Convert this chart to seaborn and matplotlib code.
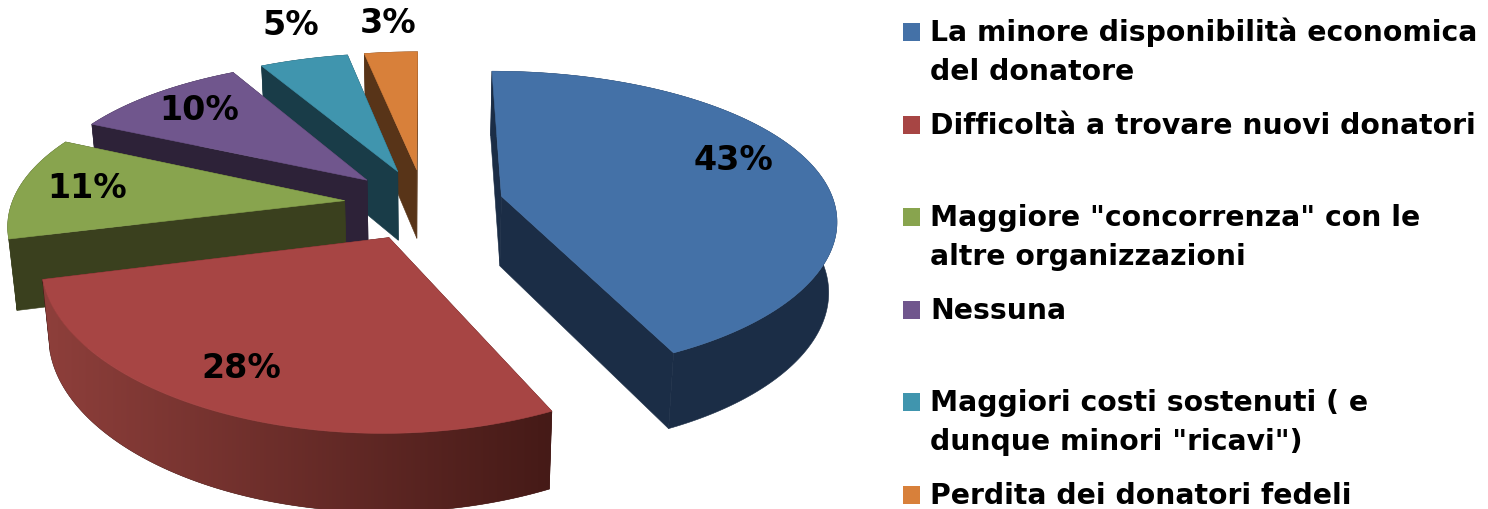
# ============================================
# EXPLODED 3D PIE - seaborn theme + perspective slices
# ============================================

import numpy as np
import seaborn as sns
import matplotlib
matplotlib.use("Agg")
import matplotlib.pyplot as plt
from matplotlib.patches import Polygon, Rectangle
from matplotlib.colors import LinearSegmentedColormap

# ============================================
# DATA
# ============================================

values = [43, 28, 11, 10, 5, 3]

legend_lines = [
    ["La minore disponibilità economica", "del donatore"],
    ["Difficoltà a trovare nuovi donatori"],
    ['Maggiore "concorrenza" con le', "altre organizzazioni"],
    ["Nessuna"],
    ["Maggiori costi sostenuti ( e", 'dunque minori "ricavi")'],
    ["Perdita dei donatori fedeli"],
]

# ============================================
# STYLE
# ============================================

top_colors = ["#4471A7", "#A74544", "#88A44E", "#70568D", "#4095AE", "#D8803A"]
wall_colors = ["#1B2D46", "#451A17", "#3A401E", "#2D2238", "#193C48", "#583418"]
red_wall_light = "#8E3F3B"
label_xy = [(733, 160), (241, 369), (87, 189), (199, 110), (291, 25), (388, 23)]

W, H = 1488, 509
CX, CY = 424, 204
A, B = 333, 149
KX, KY = 0.14, 0.172
EXPLODE = 0.24
DEPTH = 70
SHRINK = 0.98

sns.set_theme(style="white")
plt.rcParams["font.family"] = ["DejaVu Sans"]
palette = sns.color_palette(top_colors)


def project(X, Y, bottom=False):
    x = CX + A * X / (1 + KX * Y)
    s = 1 / (1 + KY * Y)
    y = CY - B * Y * s
    if bottom:
        x = CX + (x - CX) * SHRINK
        y = y + DEPTH * np.sqrt(s)
    return np.column_stack([x, y])


# ============================================
# DRAW
# ============================================

fig = plt.figure(figsize=(W / 100, H / 100), dpi=100)
ax = fig.add_axes([0, 0, 1, 1])

shares = np.array(values) / sum(values) * 2 * np.pi
ends = np.cumsum(shares)
starts = ends - shares
mids = (starts + ends) / 2

red_map = LinearSegmentedColormap.from_list("red_wall", [red_wall_light, wall_colors[1]])

# back slices first
order = np.argsort(-np.cos(mids))

for i in order:
    ox = EXPLODE * np.sin(mids[i])
    oy = EXPLODE * np.cos(mids[i])
    t = np.linspace(starts[i], ends[i], 200)
    X = ox + np.sin(t)
    Y = oy + np.cos(t)

    top_arc = project(X, Y)
    bot_arc = project(X, Y, bottom=True)
    apex_top = project(np.array([ox]), np.array([oy]))
    apex_bot = project(np.array([ox]), np.array([oy]), bottom=True)

    # radial side faces
    flat = wall_colors[i]
    for end in [0, -1]:
        face = np.vstack([apex_top, top_arc[end], bot_arc[end], apex_bot])
        ax.add_patch(Polygon(face, closed=True, fc=flat, ec=flat, lw=0.4))

    # outer wall, the red one is shaded left to right
    wall = np.vstack([top_arc, bot_arc[::-1]])
    wall_patch = Polygon(wall, closed=True, fc=flat, ec=flat, lw=0.4)
    ax.add_patch(wall_patch)
    if i == 1:
        x0, x1 = wall[:, 0].min(), wall[:, 0].max()
        y0, y1 = wall[:, 1].min(), wall[:, 1].max()
        im = ax.imshow(np.linspace(0, 1, 256).reshape(1, -1), cmap=red_map,
                       extent=[x0, x1, y1, y0], aspect="auto", zorder=wall_patch.get_zorder())
        im.set_clip_path(wall_patch)

    # top face
    ax.add_patch(Polygon(np.vstack([apex_top, top_arc]), closed=True,
                         fc=palette[i], ec=palette[i], lw=0.4, zorder=2))

ax.set_xlim(0, W)
ax.set_ylim(H, 0)
ax.axis("off")

for val, (lx, ly) in zip(values, label_xy):
    ax.text(lx, ly, f"{val}%", ha="center", va="center",
            fontsize=24, fontweight="bold", color="black", zorder=5)

# ============================================
# LEGEND
# ============================================

for i, lines in enumerate(legend_lines):
    base = 41 + i * 92.6
    ax.add_patch(Rectangle((903, base - 18), 17, 18, fc=palette[i], ec="none"))
    for n, line in enumerate(lines):
        ax.text(930, base + n * 39, line, ha="left", va="baseline",
                fontsize=20.3, fontweight="bold", color="black")

fig.savefig("out.png", dpi=100, facecolor="white")
